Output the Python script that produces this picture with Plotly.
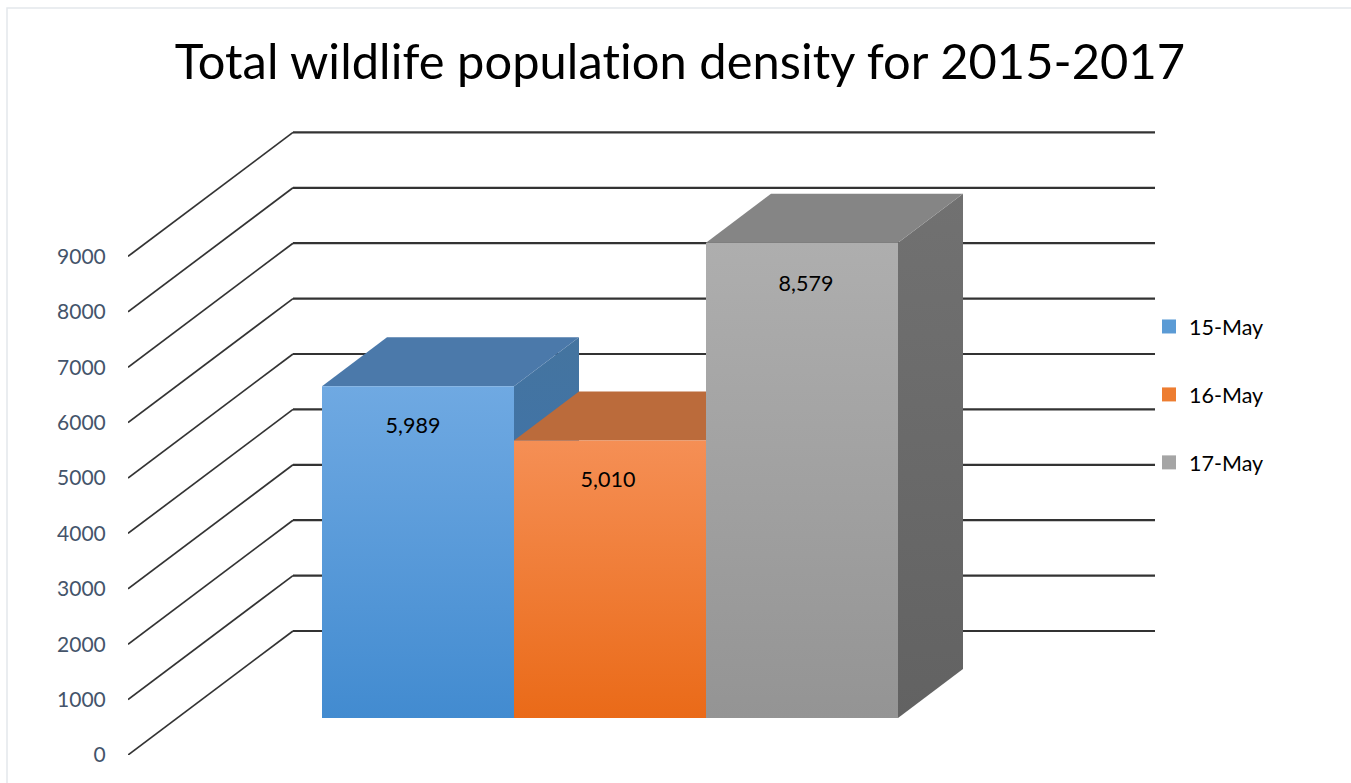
import plotly.graph_objects as go

# ---- data ----
TITLE = "Total wildlife population density for 2015-2017"
series_names = ["15-May", "16-May", "17-May"]
series_values = [5989, 5010, 8579]
tick_values = [0, 1000, 2000, 3000, 4000, 5000, 6000, 7000, 8000, 9000]

front_top_colors = ["#6fa9e2", "#f58f55", "#aeaeae"]
front_bottom_colors = ["#428bd0", "#ea6a18", "#949494"]
top_face_colors = ["#4b79aa", "#bb6b3b", "#858585"]
side_top_colors = ["#44749f", "#a85a2c", "#717171"]
side_bottom_colors = ["#3b72b5", "#a85a2c", "#626262"]
legend_colors = ["#5b9bd5", "#ed7d31", "#a5a5a5"]

# ---- oblique projection constants (axis units) ----
SLOT = 192.0                 # pixels per bar slot
PX_PER_UNIT = 0.0554         # pixels per value unit
PLOT_L, PLOT_R, PLOT_T, PLOT_B = 128, 1155, 131, 755
W, H = 1351, 783
BAR_X0 = 322
X_MIN = (PLOT_L - BAR_X0) / SLOT
X_MAX = (PLOT_R - BAR_X0) / SLOT
Y_MAX = (PLOT_B - PLOT_T) / PX_PER_UNIT
WALL_DX = 165 / SLOT         # floor depth, horizontally
WALL_DY = 124 / PX_PER_UNIT  # floor depth, vertically
BAR_DX = 65 / SLOT           # bar depth
BAR_DY = 49 / PX_PER_UNIT
BAR_BASE = 37 / PX_PER_UNIT  # where the bar front sits on the floor
label_shift_px = [-5, -2, 4]
label_drop_px = [41, 41, 43]

fig = go.Figure()

# gridlines: slanted along the side wall, then flat along the back wall
for v in tick_values:
    fig.add_trace(go.Scatter(
        x=[X_MIN, X_MIN + WALL_DX],
        y=[v, v + WALL_DY],
        mode="lines", line=dict(color="#333333", width=1.7),
        showlegend=False, hoverinfo="skip", cliponaxis=False,
    ))
    fig.add_trace(go.Scatter(
        x=[X_MIN + WALL_DX, X_MAX],
        y=[v + WALL_DY, v + WALL_DY],
        mode="lines", line=dict(color="#333333", width=2.2),
        showlegend=False, hoverinfo="skip", cliponaxis=False,
    ))


def grad(top, bottom, lo, hi):
    return dict(type="vertical", start=lo, stop=hi,
                colorscale=[[0, bottom], [1, top]])


def face(xs, ys, color=None, gradient=None):
    kw = dict(fillgradient=gradient) if gradient else dict(fillcolor=color)
    fig.add_trace(go.Scatter(
        x=xs, y=ys, mode="lines", fill="toself",
        line=dict(width=0), showlegend=False, hoverinfo="skip", **kw,
    ))


for i, val in enumerate(series_values):
    x0, x1 = float(i), float(i + 1)
    lo = BAR_BASE
    hi = BAR_BASE + val
    # side face
    face([x1, x1 + BAR_DX, x1 + BAR_DX, x1, x1],
         [lo, lo + BAR_DY, hi + BAR_DY, hi, lo],
         gradient=grad(side_top_colors[i], side_bottom_colors[i], lo, hi + BAR_DY))
    # top face
    face([x0, x0 + BAR_DX, x1 + BAR_DX, x1, x0],
         [hi, hi + BAR_DY, hi + BAR_DY, hi, hi],
         color=top_face_colors[i])
    # front face
    face([x0, x1, x1, x0, x0], [lo, lo, hi, hi, lo],
         gradient=grad(front_top_colors[i], front_bottom_colors[i], lo, hi))

# data labels
fig.add_trace(go.Scatter(
    x=[i + 0.5 + label_shift_px[i] / SLOT for i in range(len(series_values))],
    y=[BAR_BASE + v - label_drop_px[i] / PX_PER_UNIT for i, v in enumerate(series_values)],
    text=[f"{v:,}" for v in series_values],
    mode="text", textposition="middle center",
    textfont=dict(family="Lato", size=21.5, color="#000000"),
    showlegend=False, hoverinfo="skip",
))

# legend entries
for name, col in zip(series_names, legend_colors):
    fig.add_trace(go.Scatter(
        x=[None], y=[None], mode="markers", name=name, legendgroup=name,
        marker=dict(symbol="square", size=14, color=col),
    ))

PLOT_W = PLOT_R - PLOT_L
PLOT_H = PLOT_B - PLOT_T
fig.update_layout(
    width=W, height=H, autosize=False,
    paper_bgcolor="#ffffff", plot_bgcolor="rgba(0,0,0,0)",
    margin=dict(l=PLOT_L, r=W - PLOT_R, t=PLOT_T, b=H - PLOT_B, pad=0),
    title=dict(text=TITLE, x=680 / W, xanchor="center", y=1 - 62 / H, yanchor="middle",
               font=dict(family="Lato", size=48.8, color="#000000")),
    xaxis=dict(range=[X_MIN, X_MAX], visible=False, fixedrange=True),
    yaxis=dict(range=[0, Y_MAX], tickvals=tick_values, ticktext=[str(v) for v in tick_values],
               showgrid=False, zeroline=False, showline=False, fixedrange=True,
               ticks="outside", ticklen=17, tickcolor="rgba(0,0,0,0)",
               tickfont=dict(family="Lato", size=21, color="#44546a")),
    legend=dict(x=(1149 - PLOT_L) / PLOT_W, xref="paper",
                y=(PLOT_B - 306) / PLOT_H, yref="paper",
                xanchor="left", yanchor="top",
                tracegroupgap=37, font=dict(family="Lato", size=21.5, color="#000000"),
                bgcolor="rgba(0,0,0,0)", itemwidth=30),
    shapes=[dict(type="rect", xref="paper", yref="paper", layer="below",
                 x0=(7 - PLOT_L) / PLOT_W, x1=(1365 - PLOT_L) / PLOT_W,
                 y0=(PLOT_B - 800) / PLOT_H, y1=(PLOT_B - 8) / PLOT_H,
                 line=dict(color="#e4e8ec", width=1.5))],
)

PAGE_FIX = (
    "document.body.style.margin='0';"
    "var s=document.createElement('style');"
    "s.textContent='svg text{font-variant-ligatures:none !important;"
    "font-feature-settings:\"liga\" 0,\"clig\" 0,\"dlig\" 0 !important;"
    "letter-spacing:0.001em !important}';"
    "document.head.appendChild(s);"
)
fig.write_html("out.html", post_script=PAGE_FIX, config=dict(displayModeBar=False))
